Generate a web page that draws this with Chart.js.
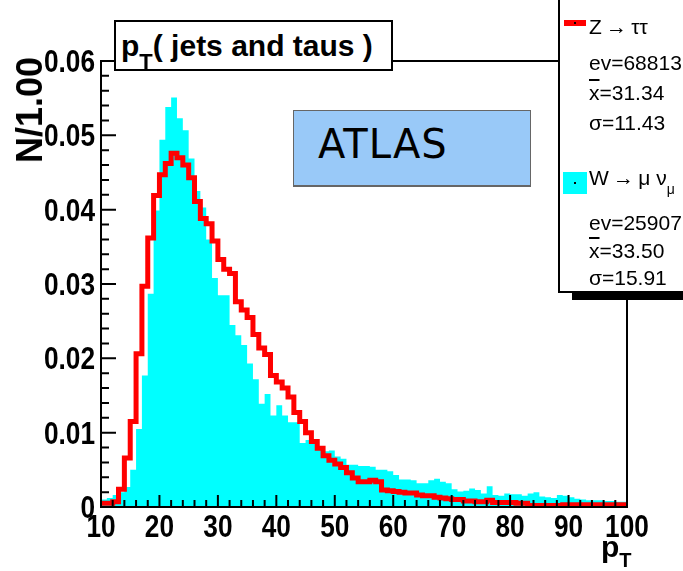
<!DOCTYPE html>
<html>
<head>
<meta charset="utf-8">
<script src="https://cdn.jsdelivr.net/npm/chart.js@4.4.1/dist/chart.umd.min.js"></script>
<style>
body { margin: 0; background: #fff; }
#wrap { position: relative; width: 683px; height: 571px; overflow: hidden; font-family: "Liberation Sans", Arial, sans-serif; color: #000; }
#chart { position: absolute; left: 0; top: 0; }
#title { position: absolute; left: 114px; top: 20px; width: 270px; height: 47px; border: 2px solid #000; background: #fff;
         font-weight: bold; font-size: 30px; line-height: 47px; padding-left: 5px; white-space: nowrap; }
#title .sub { font-size: 22px; position: relative; top: 13px; }
#atlas { position: absolute; left: 293px; top: 110px; width: 212px; height: 74px; background: #99c9f8;
         border: 1px solid #666; border-bottom-width: 2px; font-family: "DejaVu Sans", sans-serif; font-size: 40px;
         line-height: 66px; padding-left: 24px; letter-spacing: 1px; }
#legend { position: absolute; left: 558px; top: -3px; width: 140px; height: 292px; border: 2px solid #000;
          background: #fff; box-shadow: 14px 7px 0 #000; }
.lt { position: absolute; left: 589px; font-size: 21px; line-height: 21px; white-space: nowrap; }
.lt .ov { text-decoration: overline; }
.lt .sub { font-size: 14px; position: relative; top: 9px; }
.mark { position: absolute; }
.dot { position: absolute; width: 2px; height: 2px; background: #000; }
#ytitle { position: absolute; left: 30px; top: 110px; transform: translate(-50%, -50%) rotate(-90deg);
          font-weight: bold; font-size: 36px; white-space: nowrap; }
#xtitle { position: absolute; left: 601px; top: 532px; font-weight: bold; font-size: 30px; line-height: 30px; white-space: nowrap; }
#xtitle .sub { font-size: 20px; position: relative; top: 10px; }
</style>
</head>
<body>
<div id="wrap">
  <canvas id="chart" width="683" height="571"></canvas>
  <div id="title">p<span class="sub">T</span>( jets and taus )</div>
  <div id="atlas">ATLAS</div>
  <div id="legend"></div>
  <div class="mark" style="left:564px;top:20px;width:22px;height:6px;background:#ff0000;"></div>
  <div class="dot" style="left:574px;top:22px;"></div>
  <div class="lt" style="top:16px;">Z&#8201;&#8594;&#8201;&#964;&#964;</div>
  <div class="lt" style="top:52px;">ev=68813</div>
  <div class="lt" style="top:82px;"><span class="ov">x</span>=31.34</div>
  <div class="lt" style="top:112px;">&#963;=11.43</div>
  <div class="mark" style="left:563px;top:172px;width:24px;height:22px;background:#00ffff;"></div>
  <div class="dot" style="left:574px;top:182px;"></div>
  <div class="lt" style="top:167px;">W&#8201;&#8594;&#8201;&#956; &#957;<span class="sub">&#956;</span></div>
  <div class="lt" style="top:212px;">ev=25907</div>
  <div class="lt" style="top:240px;"><span class="ov">x</span>=33.50</div>
  <div class="lt" style="top:267px;">&#963;=15.91</div>
  <div id="ytitle">N/1.00</div>
  <div id="xtitle">p<span class="sub">T</span></div>
</div>
<script>
// histogram binning: 1 GeV bins from 10 to 100
const pt_min = 10;
const pt_max = 100;
const bin_width = 1;

// Z -> tau tau (red line), normalised entries per bin, bins 10..99
const z_tautau = [
  0.0005, 0.0005, 0.0007, 0.0024, 0.0066, 0.0115, 0.0206, 0.0297, 0.0362, 0.0419,
  0.0447, 0.0462, 0.0476, 0.0470, 0.0460, 0.0443, 0.0411, 0.0388, 0.0381, 0.0358,
  0.0333, 0.0320, 0.0314, 0.0276, 0.0265, 0.0255, 0.0232, 0.0214, 0.0205, 0.0177,
  0.0168, 0.0160, 0.0148, 0.0127, 0.0115, 0.0100, 0.0088, 0.0079, 0.0069, 0.0063,
  0.0058, 0.0053, 0.0046, 0.0039, 0.0034, 0.0034, 0.0036, 0.0034, 0.0023, 0.0022,
  0.0021, 0.0020, 0.0019, 0.0019, 0.0016, 0.0015, 0.0015, 0.0013, 0.0012, 0.0011,
  0.0010, 0.0010, 0.0008, 0.0008, 0.0007, 0.0007, 0.0009, 0.0006, 0.0006, 0.0006,
  0.0006, 0.0005, 0.0005, 0.0002, 0.0002, 0.0002, 0.0002, 0.0002, 0.0002, 0.0003,
  0.0003, 0.0003, 0.0003, 0.0003, 0.0003, 0.0003, 0.0003, 0.0003, 0.0003, 0.0003
];

// W -> mu nu (cyan fill), bins 10..99
const w_munu = [
  0.0010, 0.0012, 0.0016, 0.0020, 0.0027, 0.0050, 0.0105, 0.0177, 0.0287, 0.0399,
  0.0494, 0.0538, 0.0551, 0.0523, 0.0507, 0.0469, 0.0425, 0.0403, 0.0360, 0.0308,
  0.0285, 0.0285, 0.0245, 0.0231, 0.0218, 0.0193, 0.0172, 0.0139, 0.0152, 0.0123,
  0.0137, 0.0123, 0.0114, 0.0114, 0.0086, 0.0090, 0.0089, 0.0082, 0.0075, 0.0076,
  0.0068, 0.0065, 0.0057, 0.0057, 0.0055, 0.0055, 0.0054, 0.0050, 0.0050, 0.0048,
  0.0043, 0.0037, 0.0037, 0.0036, 0.0032, 0.0032, 0.0036, 0.0038, 0.0034, 0.0032,
  0.0024, 0.0021, 0.0022, 0.0025, 0.0023, 0.0018, 0.0028, 0.0016, 0.0015, 0.0018,
  0.0017, 0.0017, 0.0015, 0.0018, 0.0020, 0.0014, 0.0013, 0.0012, 0.0016, 0.0015,
  0.0013, 0.0011, 0.0010, 0.0009, 0.0009, 0.0009, 0.0008, 0.0008, 0.0007, 0.0007
];

const y_max = 0.06;

// step points: left edge of each bin, plus closing point at the upper edge
function to_steps(vals) {
    let pts = [];
    for (let i = 0; i < vals.length; i++) {
        pts.push({x: pt_min + i * bin_width, y: vals[i]});
    }
    pts.push({x: pt_max, y: vals[vals.length - 1]});
    return pts;
}

// tall, condensed labels like the ROOT helvetica-bold ones
function narrow_text(ctx, text, x, y, align) {
    ctx.save();
    ctx.translate(x, y);
    ctx.scale(0.82, 1);
    ctx.textAlign = align;
    ctx.textBaseline = 'alphabetic';
    ctx.fillText(text, 0, 0);
    ctx.restore();
}

// ROOT style frame with inward ticks and tick labels
const frame_ticks = {
    id: 'frame_ticks',
    afterDatasetsDraw(chart) {
        const ctx = chart.ctx;
        const a = chart.chartArea;
        const xs = chart.scales.x;
        const ys = chart.scales.y;
        ctx.save();
        ctx.strokeStyle = '#000';
        ctx.lineWidth = 2;
        ctx.strokeRect(a.left, a.top, a.right - a.left, a.bottom - a.top);
        ctx.beginPath();
        for (let v = pt_min; v <= pt_max; v += 2) {
            let px = xs.getPixelForValue(v);
            let len = (v % 10 === 0) ? 12 : 7;
            ctx.moveTo(px, a.bottom);
            ctx.lineTo(px, a.bottom - len);
        }
        for (let k = 0; k <= 30; k++) {
            let py = ys.getPixelForValue(k * 0.002);
            let len = (k % 5 === 0) ? 15 : 8;
            ctx.moveTo(a.left, py);
            ctx.lineTo(a.left + len, py);
        }
        ctx.stroke();

        ctx.fillStyle = '#000';
        ctx.font = 'bold 32px "Liberation Sans", Arial, sans-serif';
        ys.ticks.forEach((t) => {
            let lab = (t.value === 0) ? '0' : t.value.toFixed(2);
            narrow_text(ctx, lab, a.left - 6, ys.getPixelForValue(t.value) + 11, 'right');
        });
        xs.ticks.forEach((t) => {
            narrow_text(ctx, String(t.value), xs.getPixelForValue(t.value), a.bottom + 30, 'center');
        });
        ctx.restore();
    }
};

new Chart(document.getElementById('chart'), {
    type: 'line',
    data: {
        datasets: [{
            label: 'Z → ττ',
            data: to_steps(z_tautau),
            stepped: 'before',
            borderColor: '#ff0000',
            borderWidth: 5,
            fill: false,
            pointRadius: 0,
            order: 0
        }, {
            label: 'W → μν',
            data: to_steps(w_munu),
            stepped: 'before',
            borderWidth: 0,
            borderColor: 'rgba(0,0,0,0)',
            backgroundColor: '#00ffff',
            fill: 'origin',
            pointRadius: 0,
            order: 1
        }]
    },
    options: {
        responsive: false,
        animation: false,
        layout: {padding: {top: 61, right: 56, left: 0, bottom: 0}},
        plugins: {legend: {display: false}, tooltip: {enabled: false}, title: {display: false}},
        scales: {
            x: {
                type: 'linear',
                min: pt_min,
                max: pt_max,
                grid: {display: false, drawTicks: false},
                border: {display: false},
                ticks: {stepSize: 10, display: false},
                afterFit: (s) => { s.height = 64; }
            },
            y: {
                min: 0,
                max: y_max,
                grid: {display: false, drawTicks: false},
                border: {display: false},
                ticks: {stepSize: 0.01, display: false},
                afterFit: (s) => { s.width = 101; }
            }
        }
    },
    plugins: [frame_ticks]
});
</script>
</body>
</html>
